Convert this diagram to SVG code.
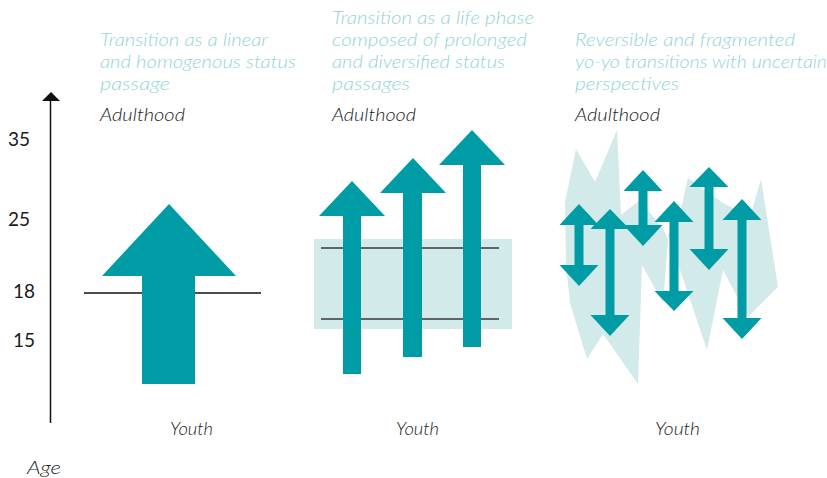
<svg xmlns="http://www.w3.org/2000/svg" width="827" height="478" viewBox="0 0 827 478">
<style>
.title{font-family:Lato,"Liberation Sans",sans-serif;font-style:italic;font-weight:300;font-size:18px;fill:#93d4d8}
.lbl{font-family:Lato,"Liberation Sans",sans-serif;font-style:italic;font-weight:300;font-size:18px;fill:#1a1a1a}
.num{font-family:Lato,"Liberation Sans",sans-serif;font-weight:400;font-size:19px;fill:#1a1a1a}
.arrow{fill:#009ca6}
.bg{fill:#d2eae9}
</style>
<rect width="827" height="478" fill="#ffffff"/>
<g id="axis">
<line x1="50.5" y1="99" x2="50.5" y2="423" stroke="#111" stroke-width="1.5"/>
<polygon points="42,101 60,101 51,92" fill="#111"/>
<text class="num" x="8" y="146">35</text>
<text class="num" x="8" y="226">25</text>
<text class="num" x="13" y="298">18</text>
<text class="num" x="13" y="347">15</text>
<text class="lbl" x="27" y="474" textLength="34" lengthAdjust="spacingAndGlyphs">Age</text>
</g>
<g id="panel1">
<text class="title" x="100" y="46" textLength="168" lengthAdjust="spacingAndGlyphs">Transition as a linear</text>
<text class="title" x="100" y="68" textLength="196" lengthAdjust="spacingAndGlyphs">and homogenous status</text>
<text class="title" x="100" y="90" textLength="70" lengthAdjust="spacingAndGlyphs">passage</text>
<text class="lbl" x="100" y="121" textLength="85" lengthAdjust="spacingAndGlyphs">Adulthood</text>
<line x1="84" y1="293" x2="261" y2="293" stroke="#111" stroke-width="1.3"/>
<path class="arrow" d="M169,204 L236,276 L195,276 L195,384 L142,384 L142,276 L102,276 Z"/>
<text class="lbl" x="170" y="435" textLength="43" lengthAdjust="spacingAndGlyphs">Youth</text>
</g>
<g id="panel2">
<text class="title" x="332" y="24" textLength="202" lengthAdjust="spacingAndGlyphs">Transition as a life phase</text>
<text class="title" x="332" y="46" textLength="195" lengthAdjust="spacingAndGlyphs">composed of prolonged</text>
<text class="title" x="332" y="68" textLength="173" lengthAdjust="spacingAndGlyphs">and diversified status</text>
<text class="title" x="332" y="90" textLength="78" lengthAdjust="spacingAndGlyphs">passages</text>
<text class="lbl" x="332" y="121" textLength="84" lengthAdjust="spacingAndGlyphs">Adulthood</text>
<rect class="bg" x="314" y="239" width="198" height="90"/>
<line x1="321" y1="248" x2="499" y2="248" stroke="#3a3a3a" stroke-width="1.5"/>
<line x1="321" y1="319" x2="499" y2="319" stroke="#3a3a3a" stroke-width="1.5"/>
<path class="arrow" d="M352,181 L385,216 L361,216 L361,374 L343,374 L343,216 L319,216 Z"/>
<path class="arrow" d="M413,158 L446,193 L422,193 L422,357 L403,357 L403,193 L380,193 Z"/>
<path class="arrow" d="M472,130 L505,165 L481,165 L481,347 L463,347 L463,165 L439,165 Z"/>
<text class="lbl" x="396" y="435" textLength="43" lengthAdjust="spacingAndGlyphs">Youth</text>
</g>
<g id="panel3">
<text class="title" x="575" y="46" textLength="220" lengthAdjust="spacingAndGlyphs">Reversible and fragmented</text>
<text class="title" x="575" y="68" textLength="252" lengthAdjust="spacingAndGlyphs">yo-yo transitions with uncertain</text>
<text class="title" x="575" y="90" textLength="104" lengthAdjust="spacingAndGlyphs">perspectives</text>
<text class="lbl" x="575" y="121" textLength="85" lengthAdjust="spacingAndGlyphs">Adulthood</text>
<polygon class="bg" points="565,202 576,149 595,182 617,130 621,215 640,200 665,232 668,240 663,303 642,265 638,384 603,334 587,359 570,303 566,265"/>
<polygon class="bg" points="668,235 680,213 688,178 723,203 750,217 761,179 778,287 748,317 723,270 707,350 680,270"/>
<path class="arrow" d="M579,204 L598.5,225 L583.5,225 L583.5,265 L598.5,265 L579,286 L559.5,265 L574.5,265 L574.5,225 L559.5,225 Z"/>
<path class="arrow" d="M610,209 L629.5,229 L614.5,229 L614.5,315 L629.5,315 L610,336 L590.5,315 L605.5,315 L605.5,229 L590.5,229 Z"/>
<path class="arrow" d="M643,170 L662.5,191 L647.5,191 L647.5,225 L662.5,225 L643,246 L623.5,225 L638.5,225 L638.5,191 L623.5,191 Z"/>
<path class="arrow" d="M674,201 L693.5,222 L678.5,222 L678.5,291 L693.5,291 L674,311 L654.5,291 L669.5,291 L669.5,222 L654.5,222 Z"/>
<path class="arrow" d="M709,167 L728.5,187 L713.5,187 L713.5,249 L728.5,249 L709,270 L689.5,249 L704.5,249 L704.5,187 L689.5,187 Z"/>
<path class="arrow" d="M742,199 L761.5,220 L746.5,220 L746.5,318 L761.5,318 L742,339 L722.5,318 L737.5,318 L737.5,220 L722.5,220 Z"/>
<text class="lbl" x="655" y="435" textLength="45" lengthAdjust="spacingAndGlyphs">Youth</text>
</g>
</svg>
